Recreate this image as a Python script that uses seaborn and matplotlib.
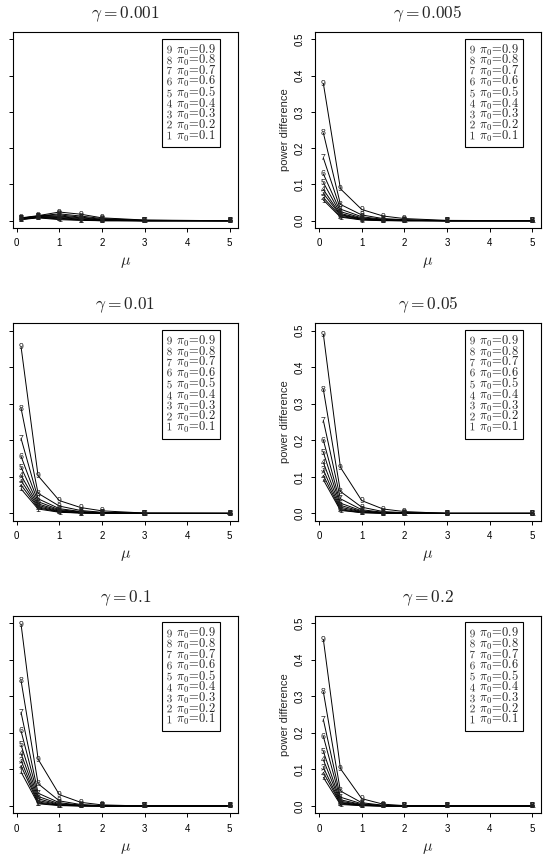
import numpy as np
import pandas as pd
import matplotlib
matplotlib.use("Agg")
import matplotlib.pyplot as plt
from matplotlib.lines import Line2D
import seaborn as sns

# ---------------- data ----------------
mu = [0.1, 0.5, 1.0, 1.5, 2.0, 3.0, 5.0]
pi0 = [0.1, 0.2, 0.3, 0.4, 0.5, 0.6, 0.7, 0.8, 0.9]
gammas = ["0.001", "0.005", "0.01", "0.05", "0.1", "0.2"]

# rows: pi0 = 0.1 ... 0.9 ; columns: mu values
diff_g0001 = [
    [0.003, 0.008, 0.003, 0.001, 0.000, 0.000, 0.0],
    [0.004, 0.009, 0.005, 0.002, 0.000, 0.000, 0.0],
    [0.004, 0.009, 0.007, 0.003, 0.001, 0.000, 0.0],
    [0.005, 0.010, 0.009, 0.004, 0.001, 0.000, 0.0],
    [0.005, 0.011, 0.011, 0.006, 0.002, 0.000, 0.0],
    [0.006, 0.012, 0.013, 0.008, 0.003, 0.000, 0.0],
    [0.006, 0.013, 0.016, 0.010, 0.004, 0.001, 0.0],
    [0.007, 0.013, 0.019, 0.013, 0.006, 0.001, 0.0],
    [0.008, 0.014, 0.024, 0.018, 0.008, 0.002, 0.0],
]
diff_g0005 = [
    [0.057, 0.010, 0.002, 0.000, 0.000, 0.0, 0.0],
    [0.064, 0.012, 0.003, 0.001, 0.000, 0.0, 0.0],
    [0.075, 0.015, 0.004, 0.001, 0.000, 0.0, 0.0],
    [0.086, 0.017, 0.005, 0.002, 0.001, 0.0, 0.0],
    [0.105, 0.020, 0.006, 0.002, 0.001, 0.0, 0.0],
    [0.129, 0.025, 0.008, 0.003, 0.001, 0.0, 0.0],
    [0.173, 0.032, 0.011, 0.004, 0.002, 0.0, 0.0],
    [0.242, 0.045, 0.016, 0.006, 0.003, 0.0, 0.0],
    [0.378, 0.088, 0.031, 0.013, 0.006, 0.001, 0.0],
]
diff_g001 = [
    [0.067, 0.012, 0.003, 0.001, 0.000, 0.0, 0.0],
    [0.078, 0.015, 0.004, 0.001, 0.000, 0.0, 0.0],
    [0.090, 0.018, 0.005, 0.002, 0.001, 0.0, 0.0],
    [0.104, 0.022, 0.006, 0.002, 0.001, 0.0, 0.0],
    [0.126, 0.026, 0.008, 0.003, 0.001, 0.0, 0.0],
    [0.156, 0.032, 0.010, 0.004, 0.002, 0.0, 0.0],
    [0.205, 0.040, 0.013, 0.005, 0.002, 0.0, 0.0],
    [0.288, 0.055, 0.020, 0.008, 0.003, 0.0, 0.0],
    [0.456, 0.103, 0.035, 0.016, 0.007, 0.001, 0.0],
]
diff_g005 = [
    [0.092, 0.008, 0.002, 0.000, 0.000, 0.0, 0.0],
    [0.104, 0.010, 0.002, 0.001, 0.000, 0.0, 0.0],
    [0.119, 0.013, 0.003, 0.001, 0.000, 0.0, 0.0],
    [0.139, 0.017, 0.004, 0.001, 0.000, 0.0, 0.0],
    [0.167, 0.022, 0.005, 0.002, 0.001, 0.0, 0.0],
    [0.200, 0.028, 0.007, 0.002, 0.001, 0.0, 0.0],
    [0.254, 0.040, 0.010, 0.003, 0.001, 0.0, 0.0],
    [0.339, 0.060, 0.017, 0.005, 0.002, 0.0, 0.0],
    [0.490, 0.126, 0.035, 0.012, 0.005, 0.0, 0.0],
]
diff_g01 = [
    [0.093, 0.006, 0.001, 0.000, 0.000, 0.0, 0.0],
    [0.110, 0.008, 0.002, 0.000, 0.000, 0.0, 0.0],
    [0.124, 0.011, 0.002, 0.001, 0.000, 0.0, 0.0],
    [0.143, 0.015, 0.003, 0.001, 0.000, 0.0, 0.0],
    [0.167, 0.020, 0.004, 0.001, 0.000, 0.0, 0.0],
    [0.205, 0.026, 0.006, 0.002, 0.000, 0.0, 0.0],
    [0.256, 0.035, 0.009, 0.002, 0.001, 0.0, 0.0],
    [0.343, 0.061, 0.014, 0.004, 0.001, 0.0, 0.0],
    [0.497, 0.128, 0.031, 0.010, 0.003, 0.0, 0.0],
]
diff_g02 = [
    [0.078, 0.004, 0.001, 0.000, 0.000, 0.0, 0.0],
    [0.092, 0.006, 0.001, 0.000, 0.000, 0.0, 0.0],
    [0.105, 0.008, 0.002, 0.000, 0.000, 0.0, 0.0],
    [0.126, 0.010, 0.002, 0.000, 0.000, 0.0, 0.0],
    [0.149, 0.013, 0.003, 0.001, 0.000, 0.0, 0.0],
    [0.190, 0.017, 0.004, 0.001, 0.000, 0.0, 0.0],
    [0.236, 0.024, 0.006, 0.001, 0.000, 0.0, 0.0],
    [0.312, 0.041, 0.009, 0.002, 0.000, 0.0, 0.0],
    [0.455, 0.102, 0.020, 0.005, 0.001, 0.0, 0.0],
]
panels = [diff_g0001, diff_g0005, diff_g001, diff_g005, diff_g01, diff_g02]

xticks = [0, 1, 2, 3, 4, 5]
yticks = [0.0, 0.1, 0.2, 0.3, 0.4, 0.5]
ytick_labels = ["0.0", "0.1", "0.2", "0.3", "0.4", "0.5"]

# ---------------- style ----------------
sns.set_theme(style="ticks")
plt.rcParams["font.family"] = ["Liberation Sans", "DejaVu Sans"]
plt.rcParams["mathtext.fontset"] = "cm"
plt.rcParams["axes.edgecolor"] = "black"
plt.rcParams["axes.linewidth"] = 0.8
plt.rcParams["xtick.color"] = "black"
plt.rcParams["ytick.color"] = "black"

fig = plt.figure(figsize=(5.49, 8.58), dpi=100)
W, H = 549.0, 858.0
col_x = [(12.7, 238.0), (315.0, 540.7)]
row_y = [(32.0, 228.0), (323.3, 520.7), (615.7, 813.3)]

for k, (g, data) in enumerate(zip(gammas, panels)):
    r, c = divmod(k, 2)
    x0, x1 = col_x[c]
    y0, y1 = row_y[r]
    ax = fig.add_axes([x0 / W, 1 - y1 / H, (x1 - x0) / W, (y1 - y0) / H])

    rows = []
    for i, p in enumerate(pi0):
        for j, m in enumerate(mu):
            rows.append({"mu": m, "diff": data[i][j], "series": str(i + 1)})
    df = pd.DataFrame(rows)
    sns.lineplot(data=df, x="mu", y="diff", hue="series", palette=["black"] * 9,
                 legend=False, linewidth=0.7, ax=ax, sort=False)
    for _, row in df.iterrows():
        ax.text(row["mu"], row["diff"], row["series"], ha="center", va="center",
                fontsize=6.3, color="#222222", family="Liberation Sans")

    ax.set_xlim(-0.096, 5.196)
    ax.set_ylim(-0.02, 0.52)
    ax.set_xticks(xticks)
    ax.set_xticklabels([str(t) for t in xticks], fontsize=7)
    ax.set_yticks(yticks)
    ax.set_yticklabels(ytick_labels, fontsize=7, rotation=90, va="center")
    ax.tick_params(length=3, width=0.7, pad=4.5)
    for s in ax.spines.values():
        s.set_visible(True)
        s.set_linewidth(0.8)
        s.set_color("black")
    ax.set_title(r"$\gamma = %s$" % g, fontsize=12.5, pad=10)
    ax.set_xlabel(r"$\mu$", fontsize=11.5, labelpad=5)
    ax.set_ylabel("power difference", fontsize=8, labelpad=3)

    handles = [Line2D([], [], linestyle="None", marker=r"$\mathsf{%d}$" % (i + 1),
                      color="#333333", markersize=5.5, markeredgewidth=0)
               for i in range(8, -1, -1)]
    labels = [r"$\pi_0\!=\!%s$" % pi0[i] for i in range(8, -1, -1)]
    leg = ax.legend(handles, labels, loc="upper right",
                    bbox_to_anchor=(0.9214, 0.9658), borderaxespad=0,
                    fontsize=9, frameon=True, fancybox=False, framealpha=1,
                    edgecolor="black", handlelength=0.5, handletextpad=0.3,
                    labelspacing=-0.36, borderpad=0.3)
    leg.get_frame().set_linewidth(0.8)

fig.savefig("out.png", dpi=100)
